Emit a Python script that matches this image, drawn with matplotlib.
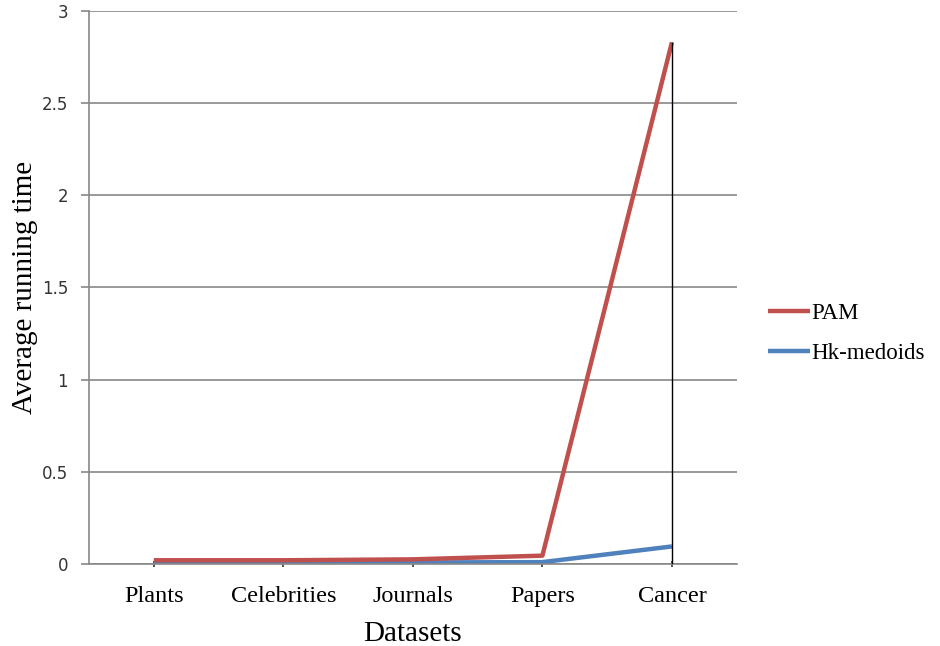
import numpy as np
import matplotlib.pyplot as plt

datasets = ["Plants", "Celebrities", "Journals", "Papers", "Cancer"]
pam = [0.02, 0.02, 0.025, 0.045, 2.83]
hk = [0.005, 0.005, 0.008, 0.01, 0.095]

fig = plt.figure(figsize=(9.4, 6.46), dpi=100)
ax = fig.add_axes([0.0947, 0.127, 0.689, 0.856])

x = np.arange(len(datasets))
ax.plot(x, pam, color="#C0504D", lw=3.2, label="PAM", solid_capstyle="butt", zorder=3)
ax.plot(x, hk, color="#4F81BD", lw=3.2, label="Hk-medoids", solid_capstyle="butt", zorder=2)
ax.vlines(x[-1], 0, pam[-1], color="black", lw=1, zorder=4)

ax.set_xlim(-0.5, len(datasets) - 0.5)
ax.set_ylim(0, 3)
ax.set_yticks(np.arange(0, 3.01, 0.5))
ax.set_yticklabels(["0", "0.5", "1", "1.5", "2", "2.5", "3"], fontsize=12, family="DejaVu Sans", color="#333333")
ax.set_xticks(x)
ax.set_xticklabels(datasets, fontsize=17.5, family="Liberation Serif")
ax.grid(axis="y", color="#888888", lw=1.2)
ax.set_axisbelow(True)
for s in ["top", "right"]:
    ax.spines[s].set_visible(False)
ax.spines["left"].set_color("#888888")
ax.spines["left"].set_linewidth(1.2)
ax.spines["bottom"].set_color("#888888")
ax.spines["bottom"].set_linewidth(1.2)
ax.tick_params(axis="y", length=6, color="#888888", width=1.2, pad=9)
ax.tick_params(axis="x", length=4, color="#333333", width=1.2, pad=14, direction="inout")

ax.set_xlabel("Datasets", fontsize=21, family="Liberation Serif", labelpad=10)
ax.set_ylabel("Average running time", fontsize=21, family="Liberation Serif", labelpad=3)

leg = fig.legend(loc="center left", bbox_to_anchor=(0.817, 0.484), frameon=False,
                 prop={"family": "Liberation Serif", "size": 16.5},
                 handlelength=1.85, handletextpad=0.05, labelspacing=0.85,
                 borderaxespad=0, borderpad=0)

fig.savefig("out.png", dpi=100)
